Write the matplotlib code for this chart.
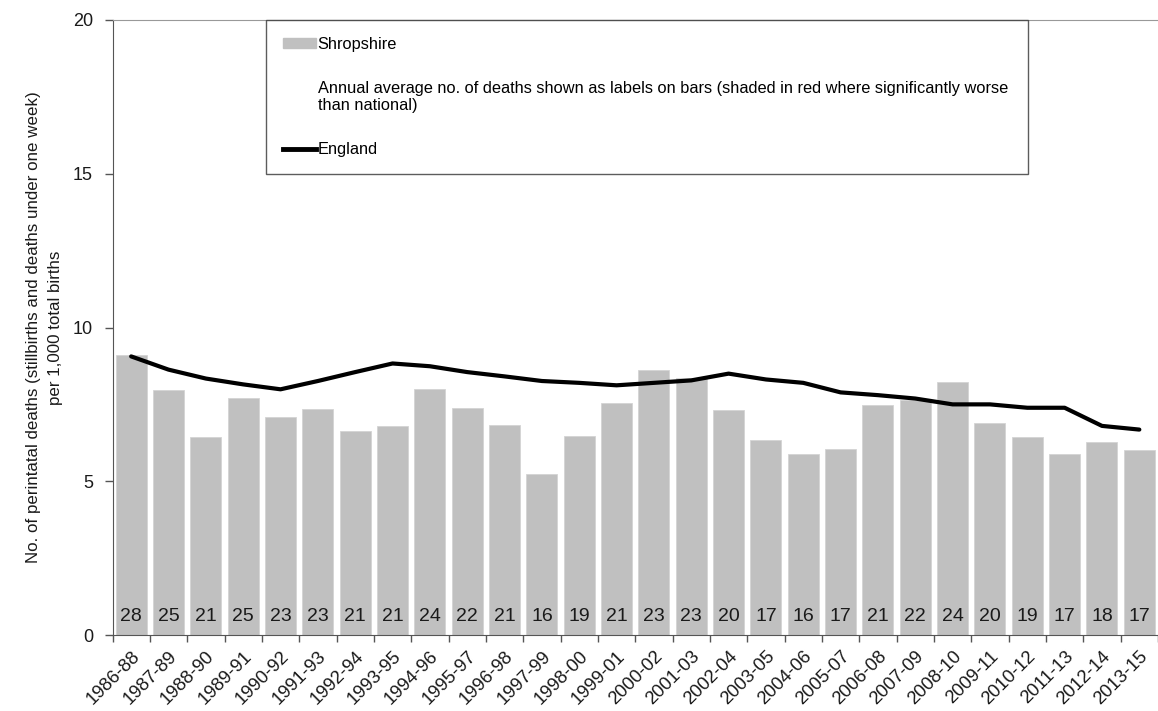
import numpy as np
import matplotlib.pyplot as plt
from matplotlib.patches import Patch
from matplotlib.lines import Line2D

plt.rcParams['font.family'] = ['Liberation Sans', 'DejaVu Sans']

periods = ['1986-88', '1987-89', '1988-90', '1989-91', '1990-92', '1991-93', '1992-94',
           '1993-95', '1994-96', '1995-97', '1996-98', '1997-99', '1998-00', '1999-01',
           '2000-02', '2001-03', '2002-04', '2003-05', '2004-06', '2005-07', '2006-08',
           '2007-09', '2008-10', '2009-11', '2010-12', '2011-13', '2012-14', '2013-15']
shropshire = [9.09, 7.96, 6.45, 7.72, 7.08, 7.35, 6.62, 6.79, 7.99, 7.38, 6.83, 5.24, 6.47, 7.55,
              8.62, 8.35, 7.31, 6.33, 5.89, 6.04, 7.48, 7.65, 8.23, 6.88, 6.43, 5.89, 6.27, 6.01]
england = [9.06, 8.63, 8.34, 8.15, 7.99, 8.26, 8.55, 8.83, 8.74, 8.55, 8.41, 8.26, 8.20, 8.12,
           8.20, 8.28, 8.50, 8.31, 8.20, 7.89, 7.80, 7.69, 7.50, 7.50, 7.39, 7.39, 6.80, 6.68]
deaths = [28, 25, 21, 25, 23, 23, 21, 21, 24, 22, 21, 16, 19, 21,
          23, 23, 20, 17, 16, 17, 21, 22, 24, 20, 19, 17, 18, 17]

fig = plt.figure(figsize=(11.58, 7.11), dpi=100)
ax = fig.add_axes([112.5 / 1158, 1 - 635 / 711, 1 - 112.5 / 1158, (635 - 20) / 711])

x = np.arange(len(periods))
ax.bar(x, shropshire, width=0.83, color='#c0c0c0', edgecolor='#d4d4d4', linewidth=0.6, zorder=2)
ax.plot(x, england, color='black', linewidth=3, solid_capstyle='round', zorder=3)

for i, n in enumerate(deaths):
    ax.text(i, 0.6, str(n), ha='center', va='center', fontsize=14, color='#1a1a1a', zorder=4)

ax.set_xlim(-0.5, len(periods) - 0.5)
ax.set_ylim(0, 20)
ax.set_yticks([0, 5, 10, 15, 20])
ax.tick_params(axis='y', labelsize=13, length=6, width=1, color='#555555', pad=8, labelcolor='#1a1a1a')

ax.set_xticks(x)
ax.set_xticklabels(periods, rotation=45, ha='right', rotation_mode='anchor', fontsize=13.3,
                   color='#1a1a1a')
ax.set_xticks(np.arange(-0.5, len(periods)), minor=True)
ax.tick_params(axis='x', which='major', length=0, pad=9)
ax.tick_params(axis='x', which='minor', length=5, width=1, color='#555555')

ax.spines['left'].set_color('#555555')
ax.spines['bottom'].set_color('#555555')
ax.spines['top'].set_color('#999999')
ax.spines['right'].set_visible(False)

ax.set_ylabel('No. of perintatal deaths (stillbirths and deaths under one week)\nper 1,000 total births',
              fontsize=12.2, color='#1a1a1a', labelpad=7, linespacing=1.6)

handles = [Patch(facecolor='#c0c0c0', edgecolor='#c0c0c0'),
           Patch(facecolor='none', edgecolor='none'),
           Line2D([], [], color='black', linewidth=3.5)]
labels = ['Shropshire',
          'Annual average no. of deaths shown as labels on bars (shaded in red where significantly worse\nthan national)',
          'England']
leg = ax.legend(handles, labels, loc='upper left',
                bbox_to_anchor=((266 - 112.5) / 1045.5, 1.0, (1028 - 266) / 1045.5, 0),
                mode='expand', fontsize=11.8, frameon=True, fancybox=False, edgecolor='#333333',
                handlelength=2.0, handleheight=0.55, handletextpad=0.1, labelspacing=1.75,
                borderpad=1.05, borderaxespad=0)
leg.get_frame().set_linewidth(1.0)

fig.savefig('out.png', dpi=100)
